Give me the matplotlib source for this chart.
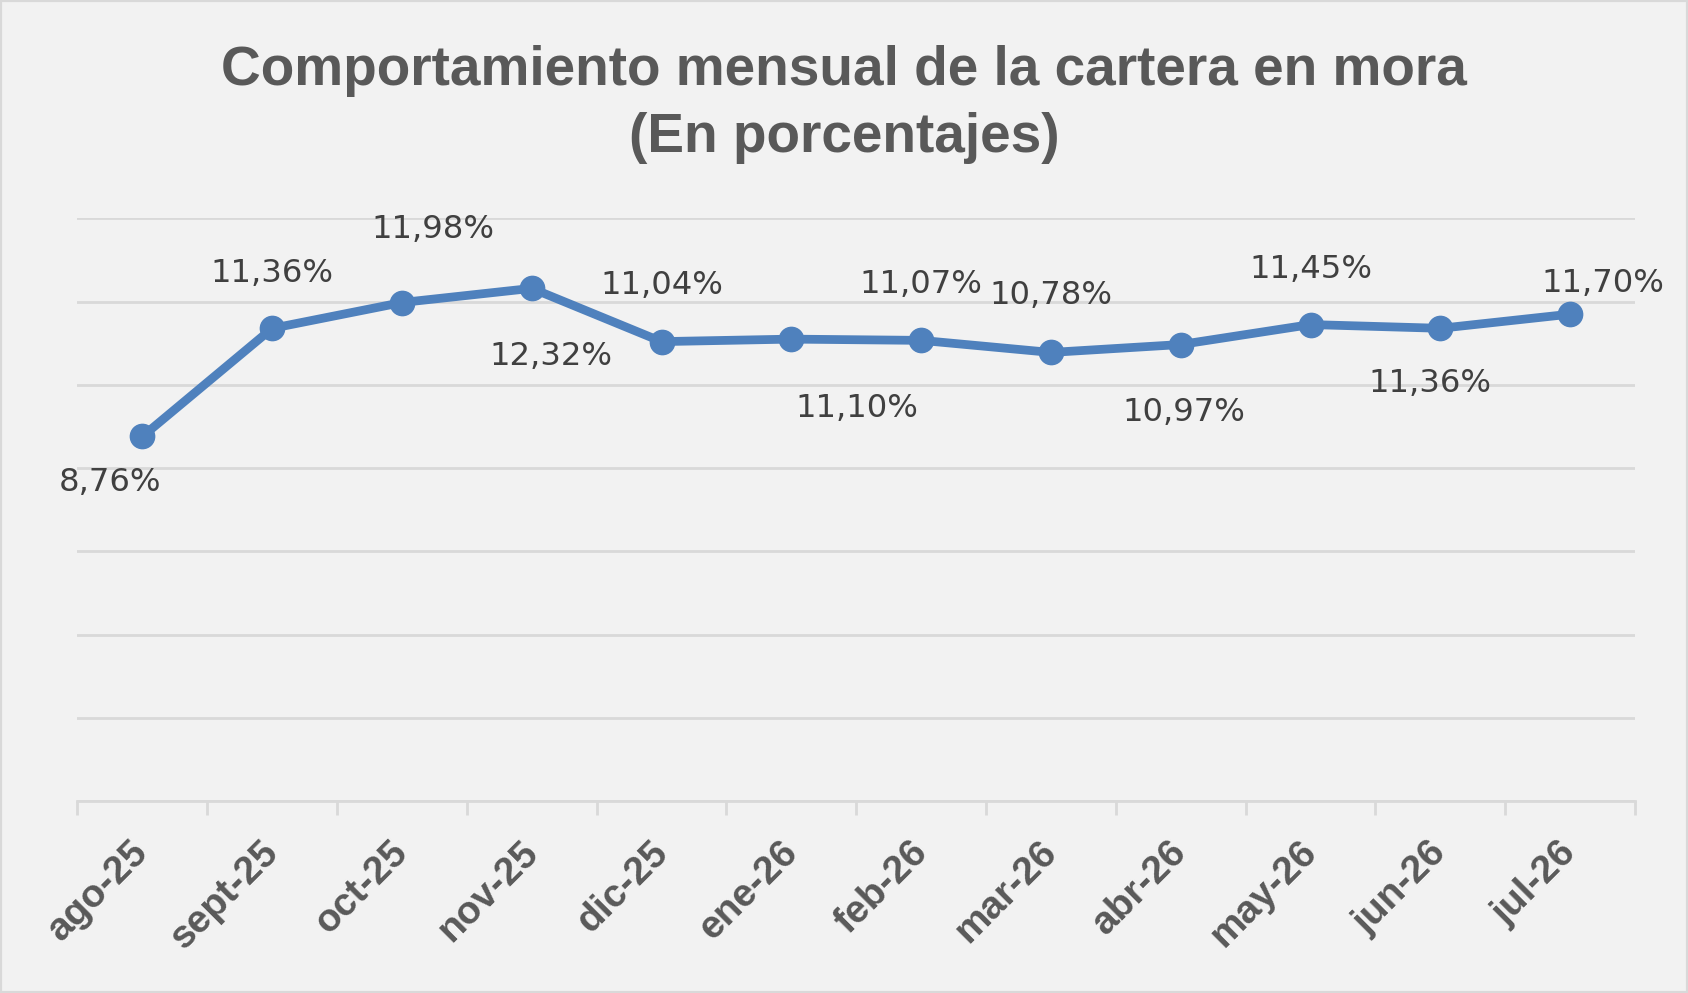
import numpy as np
import matplotlib.pyplot as plt
import matplotlib.transforms as mtransforms
from matplotlib.patches import Rectangle

# DATA
months = ["ago-25", "sept-25", "oct-25", "nov-25", "dic-25", "ene-26",
          "feb-26", "mar-26", "abr-26", "may-26", "jun-26", "jul-26"]
mora = [8.76, 11.36, 11.98, 12.32, 11.04, 11.10, 11.07, 10.78, 10.97, 11.45, 11.36, 11.70]

# label offsets in pixels (dx, dy), y up
label_offsets = [(-32, -46), (0, 55), (31, 73), (19, -68), (0, 56), (66, -69),
                 (0, 56), (0, 57), (3, -68), (0, 55), (-10, -55), (33, 31)]

BG = "#f2f2f2"
GRID = "#d9d9d9"
BLUE = "#4f81bd"
TITLE_C = "#595959"
LABEL_C = "#404040"

fig = plt.figure(figsize=(16.88, 9.93), dpi=100, facecolor=BG)
fig.patches.append(Rectangle((0, 0), 1, 1, transform=fig.transFigure,
                             fill=False, edgecolor=GRID, linewidth=3))

ax = fig.add_axes([0.0459, 0.1934, 0.9227, 0.5866])
ax.set_facecolor(BG)

x = np.arange(len(months))
ax.plot(x, mora, color=BLUE, linewidth=6.3, marker="o", markersize=17.5,
        solid_capstyle="round", zorder=3)

for xi, v, (dx, dy) in zip(x, mora, label_offsets):
    ax.annotate(f"{v:.2f}%".replace(".", ","), (xi, v), xytext=(dx, dy),
                textcoords="offset pixels", ha="center", va="center",
                fontsize=23.2, color=LABEL_C, family="DejaVu Sans")

ax.set_ylim(0, 14)
ax.set_yticks(np.arange(0, 15, 2))
ax.set_yticklabels([])
ax.tick_params(axis="y", length=0)
ax.grid(axis="y", color=GRID, linewidth=2)
ax.set_axisbelow(True)

ax.set_xlim(-0.5, len(months) - 0.5)
ax.set_xticks(np.arange(-0.5, len(months), 1.0))
ax.set_xticklabels([])
ax.set_xticks(x, minor=True)
ax.set_xticklabels(months, minor=True, rotation=45, ha="right",
                   rotation_mode="anchor", fontsize=28, fontweight="bold",
                   color=TITLE_C, family="Liberation Sans")
ax.tick_params(axis="x", which="major", length=10, width=2, color=GRID)
ax.tick_params(axis="x", which="minor", length=0, pad=24)
shift = mtransforms.ScaledTranslation(-12 / 100, 0, fig.dpi_scale_trans)
for lab in ax.get_xticklabels(minor=True):
    lab.set_transform(lab.get_transform() + shift)

for s in ["top", "right", "left"]:
    ax.spines[s].set_visible(False)
ax.spines["bottom"].set_color(GRID)
ax.spines["bottom"].set_linewidth(2)

fig.text(0.5, 1 - 71 / 993, "Comportamiento mensual de la cartera en mora",
         ha="center", va="center", fontsize=39.6, fontweight="bold",
         color=TITLE_C, family="Liberation Sans")
fig.text(0.5, 1 - 138 / 993, "(En porcentajes)",
         ha="center", va="center", fontsize=39.6, fontweight="bold",
         color=TITLE_C, family="Liberation Sans")

fig.savefig("out.png", dpi=100, facecolor=BG)
